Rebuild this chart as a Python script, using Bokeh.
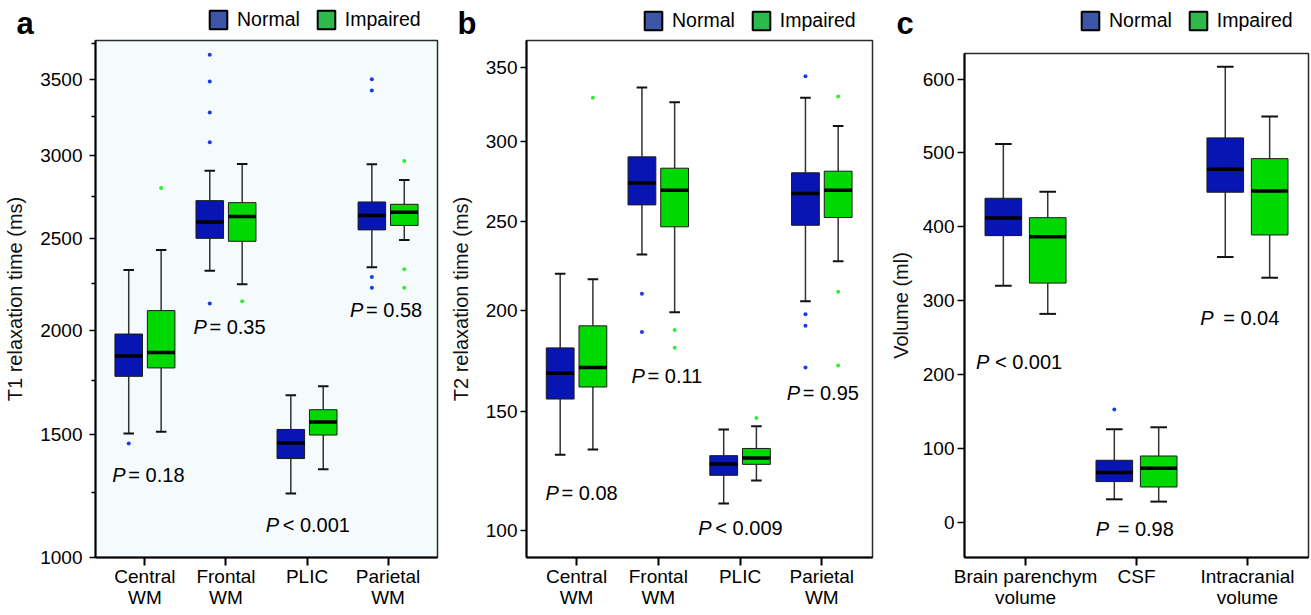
import numpy as np
from bokeh.plotting import figure
from bokeh.layouts import row, column
from bokeh.models import (Range1d, FixedTicker, Legend, LegendItem, Label,
                          ColumnDataSource)
from bokeh.core.properties import value
from bokeh.embed import file_html
from bokeh.resources import INLINE

FONT = "Liberation Sans"

# ---------------- Panel a : T1 relaxation time (ms) ----------------
T1_CATS = ["Central\nWM", "Frontal\nWM", "PLIC", "Parietal\nWM"]
T1_N_LOW = [1503, 2318, 1247, 2337]
T1_N_Q1 = [1769, 2501, 1393, 2550]
T1_N_MED = [1869, 2596, 1461, 2634]
T1_N_Q3 = [1980, 2723, 1521, 2715]
T1_N_HIGH = [2322, 2906, 1678, 2946]
T1_N_OUT = [[1459], [3670, 3486, 3278, 3085, 2140], [], [3501, 3425, 2283, 2225]]
T1_I_LOW = [1511, 2243, 1347, 2492]
T1_I_Q1 = [1810, 2484, 1496, 2576]
T1_I_MED = [1887, 2629, 1555, 2653]
T1_I_Q3 = [2102, 2711, 1611, 2701]
T1_I_HIGH = [2435, 2948, 1721, 2849]
T1_I_OUT = [[2800], [2151], [], [2967, 2326, 2225]]
T1_TICKS = [1000, 1500, 2000, 2500, 3000, 3500]
T1_MINOR = [1250, 1750, 2250, 2750, 3250, 3750]
T1_P = ["= 0.18", "= 0.35", "< 0.001", "= 0.58"]

# ---------------- Panel b : T2 relaxation time (ms) ----------------
T2_CATS = ["Central\nWM", "Frontal\nWM", "PLIC", "Parietal\nWM"]
T2_N_LOW = [130.6, 230.7, 110.5, 204.8]
T2_N_Q1 = [155.6, 259.9, 121.9, 247.7]
T2_N_MED = [167.9, 273.4, 126.6, 266.8]
T2_N_Q3 = [180.5, 289.8, 130.2, 279.7]
T2_N_HIGH = [219.8, 335.9, 141.7, 328.8]
T2_N_OUT = [[], [208.8, 188.6], [], [343.7, 197.9, 191.8, 170.7]]
T2_I_LOW = [132.8, 198.9, 119.8, 226.9]
T2_I_Q1 = [161.3, 246.8, 126.5, 252.3]
T2_I_MED = [170.7, 268.9, 129.2, 268.9]
T2_I_Q3 = [191.8, 282.6, 133.3, 280.7]
T2_I_HIGH = [216.8, 325.8, 143.1, 309.8]
T2_I_OUT = [[328.8], [189.7, 180.6], [146.9], [329.7, 210.0, 171.7]]
T2_TICKS = [100, 150, 200, 250, 300, 350]
T2_P = ["= 0.08", "= 0.11", "< 0.009", "= 0.95"]

# ---------------- Panel c : Volume (ml) ----------------
VOL_CATS = ["Brain parenchym\nvolume", "CSF", "Intracranial\nvolume"]
VOL_N_LOW = [320, 30.8, 359]
VOL_N_Q1 = [388, 54.8, 446.8]
VOL_N_MED = [412, 67, 478]
VOL_N_Q3 = [438.6, 83.7, 520.4]
VOL_N_HIGH = [512, 125.7, 616.7]
VOL_N_OUT = [[], [152.4], []]
VOL_I_LOW = [282, 27.7, 331]
VOL_I_Q1 = [323.7, 47.5, 388.9]
VOL_I_MED = [386.6, 72.8, 448.5]
VOL_I_Q3 = [412.3, 89.5, 492.3]
VOL_I_HIGH = [447.6, 128.4, 549.3]
VOL_I_OUT = [[], [], []]
VOL_TICKS = [0, 100, 200, 300, 400, 500, 600]
VOL_P = ["< 0.001", "= 0.98", "= 0.04"]

GROUPS = ["Normal", "Impaired"]
PANEL_LETTERS = ["a", "b", "c"]

BOX_BLUE = "#0716b2"
BOX_GREEN = "#00d900"
DOT_BLUE = "#1a3ce6"
DOT_GREEN = "#30ee30"
LEG_BLUE = "#3c55a6"
LEG_GREEN = "#2db94b"


def ident(a):
    return np.asarray(a, dtype=float)


def sqrt_t(a):
    return np.sqrt(np.asarray(a, dtype=float))


def draw_group(p, xs, low, q1, med, q3, high, outs, fill, dot, tf, box_w, cap_w):
    xs = np.asarray(xs, dtype=float)
    src = ColumnDataSource(dict(
        x=xs, xl=xs - box_w / 2, xr=xs + box_w / 2,
        cl=xs - cap_w / 2, cr=xs + cap_w / 2,
        low=tf(low), q1=tf(q1), med=tf(med), q3=tf(q3), high=tf(high)))
    p.segment(x0="x", y0="low", x1="x", y1="q1", source=src,
              line_color="#333333", line_width=1.5)
    p.segment(x0="x", y0="q3", x1="x", y1="high", source=src,
              line_color="#333333", line_width=1.5)
    p.segment(x0="cl", y0="low", x1="cr", y1="low", source=src,
              line_color="#111111", line_width=2)
    p.segment(x0="cl", y0="high", x1="cr", y1="high", source=src,
              line_color="#111111", line_width=2)
    p.vbar(x="x", width=box_w, bottom="q1", top="q3", source=src,
           fill_color=fill, line_color="#1a1a1a", line_width=1)
    p.segment(x0="xl", y0="med", x1="xr", y1="med", source=src,
              line_color="black", line_width=3.5)
    ox, oy = [], []
    for x, vals in zip(xs, outs):
        for v in vals:
            ox.append(x)
            oy.append(v)
    if ox:
        p.scatter(x=ox, y=list(tf(oy)), size=4, fill_color=dot, line_color=None)


def make_panel(width, height, borders, xr, yr, cats, ylabel, ticks, minor, tf,
               normal, impaired, box_w, cap_w, plabels, bg="white",
               tick_out=6, label_standoff=6, title_standoff=10):
    bl, br, bt, bb = borders
    p = figure(width=width, height=height, output_backend="svg", title=None,
               toolbar_location=None, x_range=Range1d(*xr), y_range=Range1d(*yr),
               min_border_left=bl, min_border_right=br, min_border_top=bt,
               min_border_bottom=bb, background_fill_color=bg,
               border_fill_color="white")
    p.grid.visible = False
    p.outline_line_color = "#2a2a2a"
    p.outline_line_width = 1.5

    cat_x = list(range(1, len(cats) + 1))
    xa = p.xaxis[0]
    xa.axis_label = None
    xa.ticker = FixedTicker(ticks=cat_x, minor_ticks=[])
    xa.major_label_overrides = {i: c for i, c in zip(cat_x, cats)}
    xa.major_label_text_font = FONT
    xa.major_label_text_font_size = "19px"
    xa.major_label_text_color = "black"
    xa.major_label_text_line_height = 1.0
    xa.major_label_standoff = 0
    xa.major_tick_out = 8
    xa.major_tick_in = 0
    xa.major_tick_line_width = 2
    xa.axis_line_width = 2
    xa.axis_line_color = "black"
    xa.minor_tick_line_color = None

    ya = p.yaxis[0]
    tt = list(tf(ticks))
    ya.ticker = FixedTicker(ticks=tt, minor_ticks=list(tf(minor)))
    ya.major_label_overrides = {t: str(v) for t, v in zip(tt, ticks)}
    ya.major_label_text_font = FONT
    ya.major_label_text_font_size = "19px"
    ya.major_label_text_color = "black"
    ya.major_label_standoff = label_standoff
    ya.major_tick_out = tick_out
    ya.major_tick_in = 0
    ya.major_tick_line_width = 1.5
    ya.minor_tick_out = 4
    ya.minor_tick_in = 0
    ya.minor_tick_line_width = 1.5
    ya.axis_line_width = 2
    ya.axis_line_color = "black"
    ya.axis_label = ylabel
    ya.axis_label_text_font = FONT
    ya.axis_label_text_font_size = "20px"
    ya.axis_label_text_font_style = "normal"
    ya.axis_label_text_color = "#111111"
    ya.axis_label_standoff = title_standoff

    xs = np.array(cat_x, dtype=float)
    draw_group(p, xs - 0.2, *normal, BOX_BLUE, DOT_BLUE, tf, box_w, cap_w)
    draw_group(p, xs + 0.2, *impaired, BOX_GREEN, DOT_GREEN, tf, box_w, cap_w)

    # P-value labels ("P" in italics, the rest upright)
    for txt, px, py, off in plabels:
        yy = float(tf([py])[0])
        p.text(x=[px], y=[yy], text=["P"], text_font=value(FONT),
               text_font_size="20px", text_font_style="italic",
               text_baseline="middle", text_align="left", text_color="black")
        p.text(x=[px], y=[yy], text=[txt], x_offset=off,
               text_font=value(FONT), text_font_size="20px",
               text_baseline="middle", text_align="left", text_color="black")
    return p


TOP_H = 39
W_A, W_B, W_C = 446, 440, 425
H = 615 - TOP_H

# ---- header strip: panel letters and legends ----
strip = figure(width=W_A + W_B + W_C, height=TOP_H, output_backend="svg",
               title=None, toolbar_location=None, x_axis_type=None,
               y_axis_type=None, x_range=Range1d(0, 1), y_range=Range1d(0, 1),
               min_border=0, outline_line_color=None)
# legend-only renderers (one NaN row so that the legend swatch is drawn)
r1 = strip.rect(x=[np.nan], y=[np.nan], width=1, height=1, fill_color=LEG_BLUE,
                line_color="black", line_width=2)
r2 = strip.rect(x=[np.nan], y=[np.nan], width=1, height=1, fill_color=LEG_GREEN,
                line_color="black", line_width=2)
for lx, ly in [(207, 7.7), (642, 7), (1079, 7)]:
    strip.add_layout(Legend(
        items=[LegendItem(label=GROUPS[0], renderers=[r1]),
               LegendItem(label=GROUPS[1], renderers=[r2])],
        orientation="horizontal", location=(lx, ly),
        glyph_width=22, glyph_height=23, label_height=23,
        label_standoff=8, spacing=15, padding=0, margin=0,
        border_line_color=None, background_fill_alpha=0,
        label_text_font=FONT, label_text_font_size="19.5px",
        label_text_color="black"))
for letter, lx in zip(PANEL_LETTERS, [16, 457, 896]):
    strip.add_layout(Label(x=lx, y=TOP_H - 22.5, x_units="screen",
                           y_units="screen", text=letter, text_font=FONT,
                           text_font_size="31px", text_font_style="bold",
                           text_baseline="middle", text_color="black"))

# panel a: frame 95..437 x, 40..557 y (page coordinates)
pa = make_panel(
    W_A, H, (95, 9, 1, 58), (0.39, 4.61), (np.sqrt(1000), np.sqrt(3771)),
    T1_CATS, "T1 relaxation time (ms)", T1_TICKS, T1_MINOR, sqrt_t,
    (T1_N_LOW, T1_N_Q1, T1_N_MED, T1_N_Q3, T1_N_HIGH, T1_N_OUT),
    (T1_I_LOW, T1_I_Q1, T1_I_MED, T1_I_Q3, T1_I_HIGH, T1_I_OUT),
    0.34, 0.13,
    [(T1_P[0], 0.598, 1324, 16), (T1_P[1], 1.598, 2014, 16),
     (T1_P[2], 2.49, 1123, 17), (T1_P[3], 3.531, 2105, 16)],
    bg="#f5fbfd", tick_out=6, label_standoff=7, title_standoff=11)

# panel b: frame 526..872 x, 40..557 y
pb = make_panel(
    W_B, H, (80, 14, 1, 58), (0.388, 4.62), (np.sqrt(90.2), np.sqrt(369)),
    T2_CATS, "T2 relaxation time (ms)", T2_TICKS, [], sqrt_t,
    (T2_N_LOW, T2_N_Q1, T2_N_MED, T2_N_Q3, T2_N_HIGH, T2_N_OUT),
    (T2_I_LOW, T2_I_Q1, T2_I_MED, T2_I_Q3, T2_I_HIGH, T2_I_OUT),
    0.34, 0.13,
    [(T2_P[0], 0.62, 114.7, 16), (T2_P[1], 1.673, 166.8, 16),
     (T2_P[2], 2.49, 100.9, 17), (T2_P[3], 3.571, 158.3, 16)],
    tick_out=6, label_standoff=3, title_standoff=11)

# panel c: frame 962..1308 x, 53..557 y
pc = make_panel(
    W_C, H, (76, 3, 14, 58), (0.45, 3.55), (-48, 634.7),
    VOL_CATS, "Volume (ml)", VOL_TICKS, [], ident,
    (VOL_N_LOW, VOL_N_Q1, VOL_N_MED, VOL_N_Q3, VOL_N_HIGH, VOL_N_OUT),
    (VOL_I_LOW, VOL_I_Q1, VOL_I_MED, VOL_I_Q3, VOL_I_HIGH, VOL_I_OUT),
    0.33, 0.15,
    [(VOL_P[0], 0.553, 216.6, 19), (VOL_P[1], 1.632, -9.5, 22),
     (VOL_P[2], 2.574, 276.7, 23)],
    tick_out=7, label_standoff=3, title_standoff=8)

layout = column(strip, row(pa, pb, column(pc)))
open("out.html", "w").write(file_html(layout, INLINE))
